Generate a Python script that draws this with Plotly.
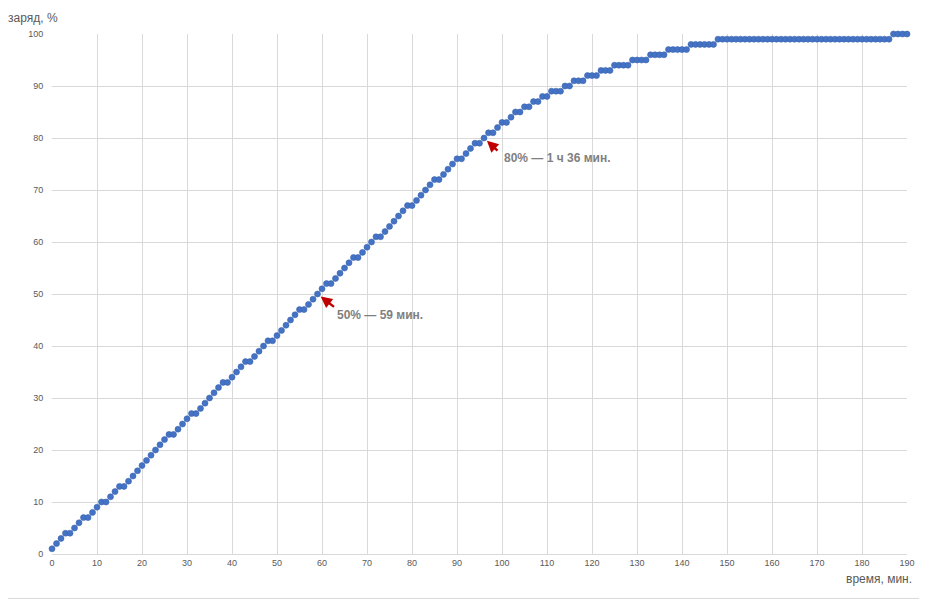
import plotly.graph_objects as go

minutes = list(range(0, 191))
charge = [
    1, 2, 3, 4, 4, 5, 6, 7, 7, 8,            # 0-9
    9, 10, 10, 11, 12, 13, 13, 14, 15, 16,    # 10-19
    17, 18, 19, 20, 21, 22, 23, 23, 24, 25,   # 20-29
    26, 27, 27, 28, 29, 30, 31, 32, 33, 33,   # 30-39
    34, 35, 36, 37, 37, 38, 39, 40, 41, 41,   # 40-49
    42, 43, 44, 45, 46, 47, 47, 48, 49, 50,   # 50-59
    51, 52, 52, 53, 54, 55, 56, 57, 57, 58,   # 60-69
    59, 60, 61, 61, 62, 63, 64, 65, 66, 67,   # 70-79
    67, 68, 69, 70, 71, 72, 72, 73, 74, 75,   # 80-89
    76, 76, 77, 78, 79, 79, 80, 81, 81, 82,   # 90-99
    83, 83, 84, 85, 85, 86, 86, 87, 87, 88,   # 100-109
    88, 89, 89, 89, 90, 90, 91, 91, 91, 92,   # 110-119
    92, 92, 93, 93, 93, 94, 94, 94, 94, 95,   # 120-129
    95, 95, 95, 96, 96, 96, 96, 97, 97, 97,   # 130-139
    97, 97, 98, 98, 98, 98, 98, 98, 99, 99,   # 140-149
] + [99] * 37 + [100] * 4                      # 150-186, 187-190

x_ticks = list(range(0, 191, 10))
y_ticks = list(range(0, 101, 10))

notes = [
    {"x": 59, "y": 50, "text": "50% — 59 мин.", "ax": 18, "ay": 14, "xs": 17, "ys": -21},
    {"x": 96, "y": 80, "text": "80% — 1 ч 36 мин.", "ax": 15, "ay": 14, "xs": 18, "ys": -20},
]

FONT = "Liberation Sans"
GRID = "#d9d9d9"
LABEL = "#595959"

fig = go.Figure()
fig.add_trace(go.Scatter(
    x=minutes, y=charge, mode="markers",
    marker=dict(size=6, color="#4472C4", line=dict(width=0.6, color="#3a64b0")),
    cliponaxis=False, hoverinfo="x+y", showlegend=False,
))

annotations = []
for n in notes:
    annotations.append(dict(
        x=n["x"], y=n["y"], xref="x", yref="y", text="", showarrow=True,
        ax=n["ax"], ay=n["ay"], axref="pixel", ayref="pixel",
        arrowhead=2, arrowsize=0.95, arrowwidth=2.4, arrowcolor="#C00000", standoff=4,
    ))
    annotations.append(dict(
        x=n["x"], y=n["y"], xref="x", yref="y", text="<b>" + n["text"] + "</b>",
        showarrow=False, xanchor="left", yanchor="middle",
        xshift=n["xs"], yshift=n["ys"],
        font=dict(family=FONT, size=12, color="#7f7f7f"),
    ))

annotations.append(dict(
    text="заряд, %", xref="paper", yref="paper", x=-0.054, y=1.031,
    xanchor="left", yanchor="middle", showarrow=False,
    font=dict(family=FONT, size=12, color=LABEL),
))
annotations.append(dict(
    text="время, мин.", xref="paper", yref="paper", x=1.008, y=-0.03,
    xanchor="right", yanchor="top", showarrow=False,
    font=dict(family=FONT, size=12, color=LABEL),
))

# page body has an 8px margin, so the figure is shrunk/offset to keep the plot area in place
fig.update_layout(
    width=919, height=592,
    margin=dict(l=44, r=18, t=26, b=46),
    paper_bgcolor="white", plot_bgcolor="white",
    font=dict(family=FONT, size=9, color=LABEL),
    annotations=annotations,
    shapes=[dict(type="rect", xref="paper", yref="paper",
                 x0=-0.0601, x1=1.0198, y0=-0.0855, y1=1.0635,
                 line=dict(color="#d9d9d9", width=1), fillcolor="rgba(0,0,0,0)", layer="below")],
    xaxis=dict(range=[0, 190], tickvals=x_ticks, ticktext=[str(v) for v in x_ticks],
               showgrid=True, gridcolor=GRID, gridwidth=1, zeroline=False,
               showline=True, linecolor=GRID, ticks="", ticklen=0,
               tickfont=dict(size=9, color=LABEL), fixedrange=True),
    yaxis=dict(range=[0, 100], tickvals=y_ticks, ticktext=[str(v) for v in y_ticks],
               showgrid=True, gridcolor=GRID, gridwidth=1, zeroline=False,
               showline=False, ticks="outside", ticklen=6, tickcolor="rgba(0,0,0,0)",
               tickfont=dict(size=9, color=LABEL), fixedrange=True),
)

fig.write_html("out.html")
